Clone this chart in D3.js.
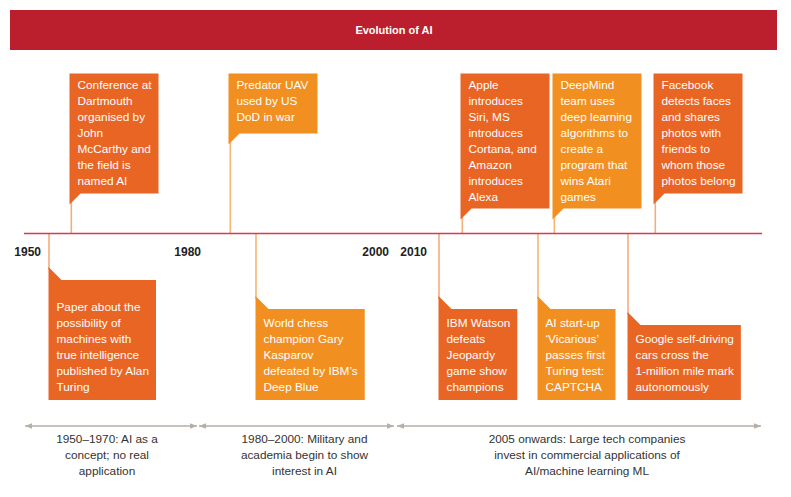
<!DOCTYPE html>
<html><head><meta charset="utf-8">
<script src="https://cdn.jsdelivr.net/npm/d3@7"></script>
<style>
body{margin:0;background:#fff}
svg{display:block}
text{font-family:"Liberation Sans",Arial,Helvetica,sans-serif}
</style>
</head><body>
<svg id="c" width="791" height="497"></svg>
<script>
// ---------- data ----------
const chartTitle = "Evolution of AI";
const tickYears = [1950, 1980, 2000, 2010];
const eventYears = [1950, 1956, 1995, 1997, 2011, 2012, 2013, 2014, 2015, 2016];
const eventSides = ["bottom","top","top","bottom","bottom","top","bottom","top","bottom","top"];
const eventTones = ["dark","dark","light","light","dark","dark","light","light","dark","dark"];
const eventTexts = [
  ["Paper about the","possibility of","machines with","true intelligence","published by Alan","Turing"],
  ["Conference at","Dartmouth","organised by","John","McCarthy and","the field is","named AI"],
  ["Predator UAV","used by US","DoD in war"],
  ["World chess","champion Gary","Kasparov","defeated by IBM\u2019s","Deep Blue"],
  ["IBM Watson","defeats","Jeopardy","game show","champions"],
  ["Apple","introduces","Siri, MS","introduces","Cortana, and","Amazon","introduces","Alexa"],
  ["AI start-up","\u2018Vicarious\u2019","passes first","Turing test:","CAPTCHA"],
  ["DeepMind","team uses","deep learning","algorithms to","create a","program that","wins Atari","games"],
  ["Google self-driving","cars cross the","1-million mile mark","autonomously"],
  ["Facebook","detects faces","and shares","photos with","friends to","whom those","photos belong"]
];
const eraTexts = [
  ["1950\u20131970: AI as a","concept; no real","application"],
  ["1980\u20132000: Military and","academia begin to show","interest in AI"],
  ["2005 onwards: Large tech companies","invest in commercial applications of","AI/machine learning ML"]
];

// ---------- layout / style ----------
const svg = d3.select("#c");
const fill = {dark:"#E96524", light:"#F28F21"};
const stem = {dark:"#F5AC7C", light:"#F6B676"};
const axisY = 233.5;
// infographic timeline is not to scale: piecewise scale
const x = d3.scaleLinear()
  .domain([1950,1956,1980,1995,1997,2000,2010,2011,2012,2013,2014,2015,2016,2017])
  .range([49,71,209,230,256,397,435,439,462,538,554,628,655,762]);

// title bar
svg.append("rect").attr("x",10).attr("y",10).attr("width",767).attr("height",40)
  .attr("fill","#BB1F2D");
svg.append("text").attr("x",394).attr("y",34).attr("text-anchor","middle")
  .attr("fill","#fff").attr("font-size",11).attr("font-weight","bold").text(chartTitle);

const stems = svg.append("g");
const boxes = svg.append("g");

const events = eventYears.map((y,i)=>({year:y, side:eventSides[i], tone:eventTones[i], lines:eventTexts[i], i}));

events.forEach(ev=>{
  const xi = x(ev.year);
  const n = ev.lines.length;
  const g = boxes.append("g");
  if (ev.side === "top") {
    const left = xi - 1.5, top = 73.5, w = 89, h = 15*n + 15, bottom = top + h;
    g.append("path").attr("fill", fill[ev.tone])
      .attr("d", `M${left},${top}H${left+w}V${bottom}H${left+11}L${left},${bottom+11}Z`);
    g.append("text").attr("fill","#fff").attr("font-size",11.8)
      .selectAll("tspan").data(ev.lines).join("tspan")
      .attr("x", left+8).attr("y",(d,k)=>top+15+k*16).text(d=>d);
    stems.append("line").attr("x1",xi+0.3).attr("x2",xi+0.3).attr("y1",bottom+8).attr("y2",axisY)
      .attr("stroke", stem[ev.tone]).attr("stroke-width",1.6);
  } else {
    const left = xi - 0.5, bottom = 400;
    const t = g.append("text").attr("fill","#fff").attr("font-size",11.8);
    t.selectAll("tspan").data(ev.lines).join("tspan")
      .attr("x", left+8).attr("y",(d,k)=>bottom-9-(n-1-k)*16).text(d=>d);
    let maxW = 0;
    t.selectAll("tspan").each(function(){ maxW = Math.max(maxW, this.getComputedTextLength()); });
    const w = Math.max(78, maxW + 15);
    const h = 16*n + 11 + (n >= 6 ? 13 : 0);
    const top = bottom - h;
    g.insert("path",":first-child").attr("fill", fill[ev.tone])
      .attr("d", `M${left},${top-13}L${left+13},${top}H${left+w}V${bottom}H${left}Z`);
    stems.append("line").attr("x1",xi).attr("x2",xi).attr("y1",axisY).attr("y2",top-10)
      .attr("stroke", stem[ev.tone]).attr("stroke-width",1.6);
  }
});

// axis line
svg.append("line").attr("x1",x(1950)-25).attr("x2",x(2017)).attr("y1",axisY).attr("y2",axisY)
  .attr("stroke","#D83A4C").attr("stroke-width",1.5);

// tick labels via d3 axis
const ax = svg.append("g").attr("transform",`translate(0,${axisY})`)
  .call(d3.axisBottom(x).tickValues(tickYears).tickSize(0).tickFormat(d3.format("d")));
ax.select(".domain").remove();
ax.selectAll("text").attr("text-anchor","end").attr("dx",-8.5).attr("y",22.5).attr("dy",0)
  .attr("font-size",12).attr("font-weight","bold").attr("fill","#222")
  .attr("font-family",'"Liberation Sans",Arial,sans-serif');

// era arrows
const arrowY = 426;
const edges = [[x(1950)-24, x(1980)-12],[x(1980)-10, x(2000)-3],[x(2000), x(2017)-1]];
const textDx = [-4, 8, 8];
const defs = svg.append("defs");
defs.append("marker").attr("id","ah").attr("viewBox","0 0 10 10").attr("refX",10).attr("refY",5)
  .attr("markerWidth",7).attr("markerHeight",7).attr("markerUnits","userSpaceOnUse").attr("orient","auto-start-reverse")
  .append("path").attr("d","M0,1L10,5L0,9Z").attr("fill","#B7AEA6");
eraTexts.forEach((lines,i)=>{
  const [a,b] = edges[i];
  svg.append("line").attr("x1",a).attr("x2",b).attr("y1",arrowY).attr("y2",arrowY)
    .attr("stroke","#B7AEA6").attr("stroke-width",1.3)
    .attr("marker-start","url(#ah)").attr("marker-end","url(#ah)");
  svg.append("text").attr("fill","#333").attr("font-size",11.8).attr("text-anchor","middle")
    .selectAll("tspan").data(lines).join("tspan")
    .attr("x",(a+b)/2 + textDx[i]).attr("y",(d,k)=>443+k*16).text(d=>d);
});
</script>
</body></html>
